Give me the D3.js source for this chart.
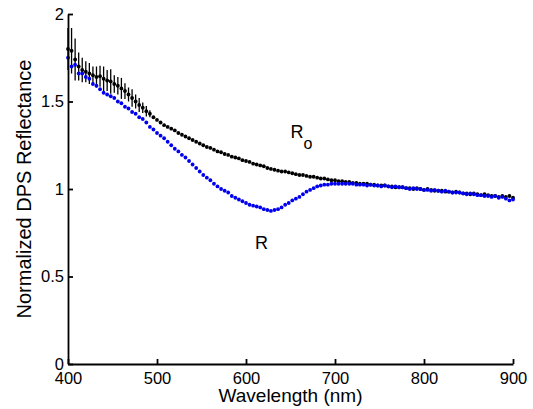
<!DOCTYPE html>
<html>
<head>
<meta charset="utf-8">
<script src="https://cdn.jsdelivr.net/npm/d3@7"></script>
<style>
  body { margin: 0; background: #fff; }
  svg { display: block; font-family: "Liberation Sans", Arial, Helvetica, sans-serif; }
  .axis path, .axis line { stroke: #000; stroke-width: 1.8; }
  .axis text { font-size: 16.5px; fill: #000; }
</style>
</head>
<body>
<div id="chart"></div>
<script>
// wavelength grid (nm), one sample every 4 nm
var wlStart = 400, wlStep = 4, wlEnd = 900;
var wavelength = d3.range(wlStart, wlEnd + 1, wlStep);

// Ro, reference reflectance (black)
var roValues = [
  1.80,1.79,1.74,1.70,1.68,1.67,1.66,1.65,1.64,1.645,
  1.63,1.62,1.615,1.60,1.59,1.575,1.56,1.54,1.52,1.50,
  1.48,1.465,1.445,1.43,1.41,1.395,1.38,1.365,1.355,1.345,
  1.335,1.32,1.31,1.30,1.29,1.28,1.27,1.26,1.25,1.24,
  1.235,1.225,1.215,1.21,1.20,1.195,1.185,1.18,1.175,1.165,
  1.16,1.155,1.145,1.14,1.135,1.13,1.12,1.115,1.11,1.105,
  1.10,1.10,1.095,1.09,1.085,1.08,1.08,1.075,1.07,1.07,
  1.065,1.06,1.06,1.055,1.05,1.05,1.045,1.045,1.04,1.04,
  1.035,1.035,1.03,1.03,1.03,1.025,1.025,1.02,1.02,1.02,
  1.015,1.015,1.01,1.01,1.01,1.005,1.005,1.00,1.005,1.00,
  0.995,1.00,0.995,0.99,0.99,0.99,0.985,0.985,0.98,0.985,
  0.98,0.975,0.975,0.97,0.975,0.97,0.965,0.97,0.965,0.96,
  0.96,0.955,0.96,0.955,0.96,0.95
];

// error bar half-widths on Ro for the first samples (400-492 nm)
var roErr = [
  0.12,0.13,0.12,0.08,0.07,0.06,0.06,0.05,0.06,0.06,
  0.07,0.06,0.07,0.05,0.05,0.06,0.045,0.04,0.05,0.04,
  0.04,0.03,0.03,0.02
];

// R, measured reflectance (blue)
var rValues = [
  1.75,1.70,1.71,1.66,1.66,1.64,1.63,1.60,1.59,1.57,
  1.55,1.54,1.53,1.52,1.50,1.49,1.47,1.46,1.44,1.43,
  1.41,1.40,1.38,1.355,1.34,1.32,1.305,1.29,1.27,1.25,
  1.23,1.215,1.195,1.18,1.16,1.14,1.12,1.10,1.08,1.065,
  1.05,1.03,1.015,1.00,0.99,0.98,0.96,0.95,0.94,0.93,
  0.92,0.91,0.905,0.90,0.895,0.885,0.88,0.875,0.88,0.885,
  0.895,0.91,0.92,0.935,0.945,0.955,0.97,0.985,0.995,1.005,
  1.015,1.02,1.025,1.025,1.03,1.03,1.03,1.03,1.03,1.03,
  1.03,1.025,1.025,1.025,1.02,1.025,1.02,1.02,1.015,1.02,
  1.015,1.01,1.015,1.01,1.01,1.005,1.00,1.005,1.00,1.00,
  0.995,0.995,0.99,0.995,0.99,0.985,0.99,0.985,0.98,0.98,
  0.98,0.975,0.97,0.975,0.97,0.965,0.965,0.96,0.96,0.955,
  0.96,0.95,0.955,0.945,0.935,0.94
];

var xTicks = [400, 500, 600, 700, 800, 900];
var yTicks = [0, 0.5, 1, 1.5, 2];
var yTickLabels = ["0", "0.5", "1", "1.5", "2"];

// annotation labels in data coordinates
var labels = [
  { text: "R", sub: "o", x: 650, y: 1.29 },
  { text: "R", sub: "", x: 610, y: 0.655 }
];

var width = 533, height = 409;

var svg = d3.select("#chart").append("svg")
  .attr("width", width)
  .attr("height", height);

var x = d3.scaleLinear().domain([400, 900]).range([68, 513]);
var y = d3.scaleLinear().domain([0, 2]).range([364, 14]);

var ro = wavelength.map(function(w, i) { return { w: w, v: roValues[i], e: roErr[i] || 0 }; });
var r = wavelength.map(function(w, i) { return { w: w, v: rValues[i] }; });

// error bars on Ro
var bars = svg.append("g").attr("class", "errbars");
var withErr = ro.filter(function(d) { return d.e > 0; });
bars.selectAll("line.v")
  .data(withErr)
  .enter().append("line")
  .attr("class", "v")
  .attr("x1", function(d) { return x(d.w); })
  .attr("x2", function(d) { return x(d.w); })
  .attr("y1", function(d) { return y(d.v - d.e); })
  .attr("y2", function(d) { return y(d.v + d.e); })
  .style("stroke", "#000")
  .style("stroke-width", 1.3);

// Ro points
svg.append("g").selectAll("circle")
  .data(ro)
  .enter().append("circle")
  .attr("cx", function(d) { return x(d.w); })
  .attr("cy", function(d) { return y(d.v); })
  .attr("r", 1.9)
  .style("fill", "#000");

// R points
svg.append("g").selectAll("circle")
  .data(r)
  .enter().append("circle")
  .attr("cx", function(d) { return x(d.w); })
  .attr("cy", function(d) { return y(d.v); })
  .attr("r", 1.9)
  .style("fill", "#0000ee");

// axes, ticks point inward
var xAxis = d3.axisBottom(x)
  .tickValues(xTicks)
  .tickFormat(d3.format("d"))
  .tickSizeInner(-5)
  .tickSizeOuter(0)
  .tickPadding(8);

var yAxis = d3.axisLeft(y)
  .tickValues(yTicks)
  .tickFormat(function(d, i) { return yTickLabels[i]; })
  .tickSizeInner(-5)
  .tickSizeOuter(0)
  .tickPadding(4);

svg.append("g")
  .attr("class", "axis")
  .attr("transform", "translate(0,364)")
  .call(xAxis)
  .call(function(g) { g.attr("font-family", null).attr("font-size", null); });

svg.append("g")
  .attr("class", "axis")
  .attr("transform", "translate(68,0)")
  .call(yAxis)
  .call(function(g) { g.attr("font-family", null).attr("font-size", null); });

// axis titles
svg.append("text")
  .attr("x", (68 + 513) / 2)
  .attr("y", 402)
  .attr("text-anchor", "middle")
  .style("font-size", "19px")
  .text("Wavelength (nm)");

svg.append("text")
  .attr("transform", "translate(31," + (14 + 364) / 2 + ") rotate(-90)")
  .attr("text-anchor", "middle")
  .style("font-size", "20px")
  .text("Normalized DPS Reflectance");

// curve labels
labels.forEach(function(l) {
  svg.append("text")
    .attr("x", x(l.x))
    .attr("y", y(l.y))
    .style("font-size", "18px")
    .text(l.text);
  if (l.sub) {
    svg.append("text")
      .attr("x", x(l.x) + 13)
      .attr("y", y(l.y) + 11)
      .style("font-size", "16px")
      .text(l.sub);
  }
});
</script>
</body>
</html>
